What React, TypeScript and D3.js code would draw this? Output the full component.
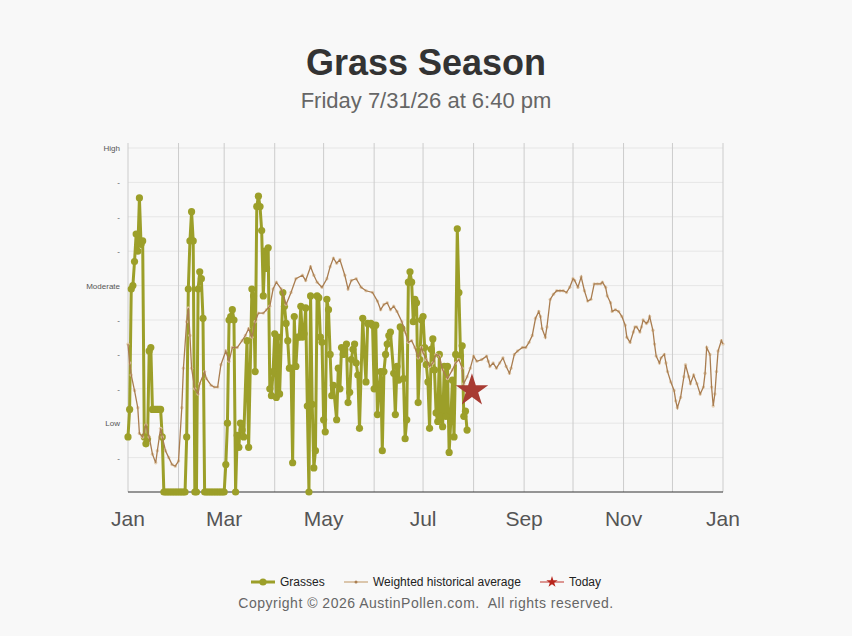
import * as d3 from "d3";

// chart values (day of year from Jan 1 2026, level 0..10)
const monthLabels = ["Jan", "Mar", "May", "Jul", "Sep", "Nov", "Jan"];
const levelNames: Record<number, string> = { 2: "Low", 6: "Moderate", 10: "High" };

const grassDay = [
  0, 1, 2, 3, 4, 5, 6, 7, 8, 9, 10, 11, 12, 13, 14, 15, 16, 17, 18, 19, 20, 21,
  22, 23, 24, 25, 26, 27, 28, 29, 30, 31, 32, 33, 34, 35, 36, 37, 38, 39, 40, 41,
  42, 43, 44, 45, 46, 47, 48, 49, 50, 51, 52, 53, 54, 55, 56, 57, 58, 59, 60, 61,
  62, 63, 64, 65, 66, 67, 68, 69, 70, 71, 73, 74, 76, 77, 78, 79, 80, 81, 82, 83,
  84, 85, 86, 87, 88, 89, 90, 91, 92, 93, 95, 96, 97, 98, 99, 100, 101, 102, 103,
  104, 105, 106, 107, 108, 109, 110, 111, 112, 113, 114, 115, 116, 117, 118, 119,
  120, 121, 122, 123, 124, 125, 126, 128, 129, 130, 131, 132, 133, 134, 135, 136,
  137, 138, 139, 140, 141, 142, 144, 145, 146, 147, 149, 150, 151, 152, 153, 154,
  155, 156, 157, 158, 159, 160, 161, 163, 164, 165, 166, 167, 168, 169, 170, 171,
  172, 173, 174, 175, 176, 177, 178, 179, 180, 181, 182, 183, 184, 185, 186, 187,
  188, 189, 190, 191, 192, 193, 194, 195, 196, 197, 198, 199, 200, 201, 202, 203,
  204, 205, 206, 207, 208,
];
const grassLevel = [
  1.6, 2.4, 5.9, 6.0, 6.7, 7.5, 7.0, 8.55, 7.2, 7.3, 1.6, 1.4, 1.55, 4.1, 4.2, 2.4,
  2.4, 2.4, 2.4, 2.4, 2.4, 1.6,
  0, 0, 0, 0, 0, 0, 0, 0, 0, 0, 0, 0, 0, 0, 1.6, 5.9, 7.3, 8.15, 7.3, 0,
  0, 5.9, 6.4, 6.2, 5.05, 0, 0, 0, 0, 0, 0, 0, 0, 0, 0, 0, 0, 0, 0.8, 2.0,
  5.0, 5.1, 5.3, 5.0, 0, 1.65, 1.3, 2.0, 1.8, 1.6, 4.4, 1.3, 5.9, 5.7, 3.5, 8.3, 8.6, 8.3, 7.6, 5.7,
  7.0, 6.5, 7.1, 3.0, 2.8, 3.5, 4.6, 2.75, 4.5, 2.85, 5.8, 5.4, 4.9, 4.4, 3.6, 3.6, 0.85, 5.1, 3.65,
  4.5, 4.5, 5.4, 4.5, 4.6, 5.35, 2.5, 0, 5.7, 2.55, 0.7, 1.2, 5.7, 5.65, 4.5, 4.35,
  2.1, 1.75, 5.6, 5.3, 4.0, 2.8, 3.1, 2.1, 3.6, 3.0, 4.2, 4.0, 4.15, 4.3, 2.6, 2.9,
  3.85, 4.15, 4.3, 3.75, 3.4, 1.85, 5.05, 4.0, 3.2, 4.9, 4.9, 4.85, 3.0, 4.85, 2.25, 2.95,
  3.5, 1.2, 3.5, 4.0, 4.3, 4.55, 4.65, 3.45, 2.25, 3.65, 3.25, 4.8, 4.75, 3.3, 1.55, 2.1,
  6.1, 6.4, 6.1, 4.95, 5.6, 5.5, 2.6, 3.85, 5.0, 5.1, 4.2, 3.7, 3.2, 1.85, 4.15, 4.45,
  3.55, 2.3, 2.05, 4.0, 2.2, 1.9, 3.65, 2.2, 3.65, 1.15, 2.05, 3.25, 1.6, 4.0, 7.65, 5.8,
  3.95, 4.25, 2.2, 2.35, 1.8,
];

const avgDay = [
  0, 1, 2, 4, 6, 7, 9, 11, 13, 15, 17, 18, 20, 21, 23, 25, 27, 29, 31, 33, 34, 36,
  37, 38, 39, 41, 43, 44, 47, 48, 51, 53, 55, 57, 60, 62, 64, 67, 70, 72, 74, 76,
  78, 80, 83, 85, 87, 89, 91, 94, 97, 100, 103, 107, 109, 112, 114, 116, 119, 122,
  124, 126, 128, 130, 133, 135, 137, 140, 143, 146, 150, 153, 155, 157, 159, 161,
  163, 165, 168, 170, 172, 174, 176, 178, 180, 181, 183, 185, 187, 189, 191, 193,
  196, 199, 201, 203, 205, 206, 208, 210, 212, 214, 217, 220, 221, 222, 224, 226,
  228, 230, 232, 234, 235, 237, 239, 242, 244, 246, 248, 250, 252, 253, 254, 256,
  257, 259, 261, 263, 265, 267, 269, 271, 273, 274, 276, 278, 280, 282, 284, 286,
  288, 290, 291, 293, 294, 296, 297, 299, 301, 303, 305, 306, 308, 310, 311, 312,
  314, 315, 316, 318, 319, 320, 322, 323, 324, 326, 327, 329, 330, 331, 333, 335,
  336, 337, 339, 341, 342, 344, 345, 347, 349, 351, 353, 354, 355, 357, 358, 359,
  360, 361, 362, 364, 365,
];
const avgLevel = [
  4.3, 3.75, 3.4, 2.95, 2.45, 1.7, 1.6, 1.95, 1.6, 1.1, 0.85, 1.2, 1.85, 1.6, 1.2, 1.0, 0.8, 0.75, 0.9, 2.45, 3.6, 4.95,
  5.35, 4.55, 3.6, 3.0, 2.85, 3.15, 3.5, 3.3, 3.1, 3.05, 3.05, 3.7, 4.1, 3.8, 4.2, 4.2, 4.4, 4.55, 4.75, 4.5,
  4.95, 5.2, 5.2, 5.3, 5.4, 5.9, 6.1, 5.9, 5.45, 5.8, 6.2, 6.3, 6.15, 6.55, 6.3, 6.1, 5.95, 6.2,
  6.55, 6.8, 6.65, 6.75, 6.3, 5.9, 6.15, 6.2, 5.95, 5.85, 5.8, 5.55, 5.3, 5.45, 5.5, 5.3,
  5.4, 5.25, 4.95, 4.65, 4.35, 4.4, 4.2, 3.9, 4.2, 4.05, 3.85, 3.65, 3.75, 4.0, 3.95, 3.55,
  3.3, 3.55, 3.75, 3.85, 3.6, 3.15, 3.35, 3.6, 3.95, 3.8, 3.85, 3.95, 3.8, 3.65, 3.75, 3.6,
  3.75, 3.9, 3.65, 3.45, 3.6, 4.0, 4.1, 4.2, 4.2, 4.35, 4.55, 5.05, 5.25, 5.1, 4.75, 4.5,
  4.8, 5.6, 5.75, 5.85, 5.85, 5.85, 5.8, 5.95, 6.2, 6.15, 5.95, 6.25, 5.85, 5.55, 5.6, 6.05,
  6.05, 6.05, 6.1, 5.95, 5.7, 5.5, 5.25, 5.3, 5.25, 5.1, 4.85, 4.5, 4.35, 4.65, 4.8, 4.8,
  4.65, 4.8, 5.0, 4.9, 4.95, 5.1, 4.7, 4.3, 3.95, 3.75, 3.9, 4.0, 3.75, 3.5, 3.2, 2.95,
  2.65, 2.45, 2.75, 3.35, 3.7, 3.35, 3.15, 3.4, 3.15, 2.85, 3.05, 3.45, 4.2, 4.0, 3.05, 2.5,
  2.85, 3.5, 4.1, 4.4, 4.3,
];

const todayDay = 211;
const todayLevel = 2.95;

const W = 852;
const H = 636;
const font = "'Liberation Sans', Arial, Helvetica, sans-serif";
const green = "#9c9f29";
const tan = "#a97d50";
const red = "#a83b33";

const start = new Date(2026, 0, 1);
const toDate = (d: number) => d3.timeDay.offset(start, d);

export default function App() {
  const x = d3.scaleTime().domain([start, new Date(2027, 0, 1)]).range([128, 723]);
  const y = d3.scaleLinear().domain([0, 10]).range([492, 148]);

  const grass = grassDay.map((d, i) => ({ date: toDate(d), v: grassLevel[i] }));
  const avg = avgDay.map((d, i) => ({ date: toDate(d), v: avgLevel[i] }));

  const line = d3
    .line<{ date: Date; v: number }>()
    .x((d) => x(d.date))
    .y((d) => y(d.v));

  const months = d3.timeMonth.range(start, new Date(2027, 0, 2));
  const labelTicks = d3.timeMonth.every(2)!.range(start, new Date(2027, 0, 2));
  const levels = d3.range(1, 11);
  const star = d3.symbol(d3.symbolStar, 330)()!;
  const smallStar = d3.symbol(d3.symbolStar, 40)()!;

  return (
    <svg
      width={W}
      height={H}
      style={{ position: "absolute", left: 0, top: 0, background: "#f8f8f8" }}
      fontFamily={font}
    >
      <rect width={W} height={H} fill="#f8f8f8" />
      <text x={426} y={75} textAnchor="middle" fontSize={36} fontWeight="bold" fill="#333">
        Grass Season
      </text>
      <text x={426} y={108} textAnchor="middle" fontSize={22} fill="#666">
        Friday 7/31/26 at 6:40 pm
      </text>

      {/* grid */}
      {levels.map((l) => (
        <line key={"h" + l} x1={128} x2={723} y1={y(l)} y2={y(l)} stroke="#e6e6e6" />
      ))}
      {months.map((m, i) => (
        <line key={"v" + i} x1={x(m)} x2={x(m)} y1={143} y2={492} stroke="#cccccc" />
      ))}
      <line x1={128} x2={723} y1={492} y2={492} stroke="#333" />

      {levels.map((l) => (
        <text key={"yl" + l} x={120} y={y(l) + 3} textAnchor="end" fontSize={8} fill="#555">
          {levelNames[l] ?? "-"}
        </text>
      ))}
      {labelTicks.map((m, i) => (
        <text key={"xl" + i} x={x(m)} y={526} textAnchor="middle" fontSize={21} fill="#555">
          {monthLabels[i]}
        </text>
      ))}

      {/* grasses */}
      <path d={line(grass)!} fill="none" stroke={green} strokeWidth={3} strokeLinejoin="round" />
      {grass.map((d, i) => (
        <circle key={"g" + i} cx={x(d.date)} cy={y(d.v)} r={3.6} fill={green} />
      ))}

      {/* weighted historical average */}
      {avg.map((d, i) => (
        <circle key={"a" + i} cx={x(d.date)} cy={y(d.v)} r={1.7} fill="#e0c9aa" opacity={0.9} />
      ))}
      <path d={line(avg)!} fill="none" stroke={tan} strokeWidth={1.3} />

      {/* today */}
      <path
        d={star}
        transform={`translate(${x(toDate(todayDay))},${y(todayLevel)})`}
        fill={red}
      />

      {/* legend */}
      <g fontSize={12} fill="#222">
        <line x1={251} x2={275} y1={582} y2={582} stroke={green} strokeWidth={3} />
        <circle cx={263} cy={582} r={3.6} fill={green} />
        <text x={280} y={586}>Grasses</text>
        <line x1={344} x2={368} y1={582} y2={582} stroke="#d2b693" strokeWidth={1.5} />
        <circle cx={356} cy={582} r={1.5} fill={tan} />
        <text x={373} y={586}>Weighted historical average</text>
        <line x1={540} x2={564} y1={582} y2={582} stroke="#c9544d" strokeWidth={1.2} />
        <path d={smallStar} transform="translate(552,582)" fill="#b8261c" />
        <text x={569} y={586}>Today</text>
      </g>
      <text
        x={426}
        y={608}
        textAnchor="middle"
        fontSize={14}
        fill="#666"
        letterSpacing={0.5}
        style={{ whiteSpace: "pre" }}
      >
        Copyright © 2026 AustinPollen.com.  All rights reserved.
      </text>
    </svg>
  );
}
